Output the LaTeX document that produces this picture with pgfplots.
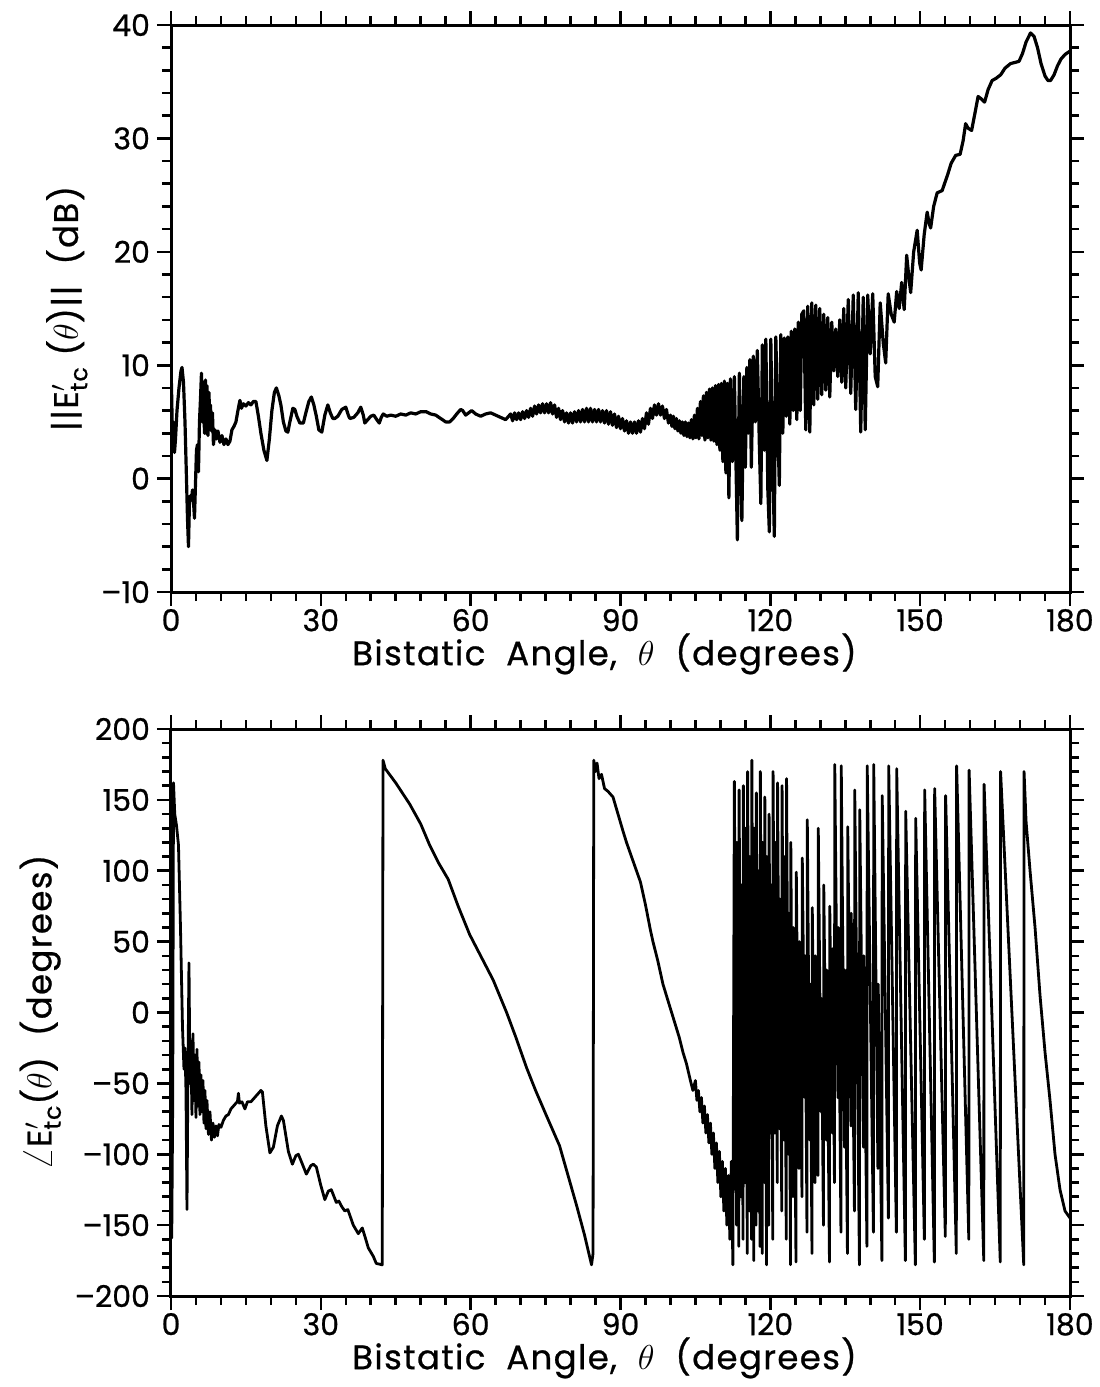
\documentclass[border=0pt]{standalone}
\usepackage{fontspec}
\setmainfont{Poppins}[FakeBold=0.7]
\usepackage{amsmath}
\usepackage{graphicx}
\usepackage{pgfplots}
\pgfplotsset{compat=1.18}

\pgfplotstableread{
t v
0.0 10.0
0.15 7.0
0.3 3.0
0.5 5.0
0.7 2.3
0.9 3.5
1.2 6.0
1.6 8.0
2.0 9.5
2.2 9.8
2.5 8.5
2.8 5.0
3.1 0.0
3.3 -3.5
3.5 -6.0
3.7 -2.0
3.9 -1.5
4.1 -1.9
4.3 -1.0
4.5 -2.0
4.7 -3.5
4.9 -0.5
5.1 2.5
5.3 3.0
5.5 0.6
5.7 5.0
5.9 7.0
6.1 9.3
6.3 5.0
6.5 8.5
6.7 4.0
6.9 8.7
7.0 4.0
7.2 8.2
7.4 3.8
7.6 7.6
7.8 4.5
7.9 6.5
8.1 4.2
8.3 5.8
8.5 3.0
8.8 4.3
9.1 3.5
9.4 4.2
9.8 3.2
10.2 3.8
10.6 3.0
11.0 3.5
11.4 3.0
11.8 3.3
12.2 4.3
12.6 4.6
13.0 5.0
13.4 6.0
13.8 6.9
14.1 6.2
14.5 6.6
15.0 6.4
15.5 6.7
16.0 6.5
16.5 6.8
17.0 6.8
17.5 5.5
18.0 4.0
18.6 2.5
19.2 1.6
19.7 3.5
20.2 6.0
20.7 7.6
21.1 8.0
21.6 7.3
22.0 6.5
22.5 5.0
23.0 4.2
23.4 4.1
23.8 5.0
24.4 6.2
24.8 6.1
25.2 5.5
25.8 4.9
26.5 4.9
27.0 5.8
27.6 6.8
28.1 7.2
28.6 6.5
29.1 5.5
29.6 4.3
30.2 4.1
30.8 5.6
31.4 6.5
31.9 5.8
32.4 5.3
32.8 5.3
33.4 5.5
34.2 6.1
35.0 6.3
35.5 5.6
35.8 5.3
36.6 5.4
37.4 5.8
38.0 6.3
38.5 5.6
38.8 4.9
39.4 5.2
40.0 5.5
40.6 5.6
41.2 5.2
41.7 4.9
42.1 5.4
42.5 5.7
43.2 5.5
44.0 5.6
45.0 5.5
46.0 5.7
47.0 5.6
48.0 5.8
49.0 5.7
50.0 5.9
51.1 5.9
52.0 5.7
53.0 5.6
54.0 5.3
55.0 5.0
55.8 5.0
56.5 5.3
57.2 5.7
58.0 6.1
58.4 6.0
59.0 5.6
59.6 5.8
60.2 6.0
61.0 5.7
62.0 5.5
63.0 5.7
64.0 5.8
65.0 5.6
66.0 5.4
67.0 5.2
68.0 5.7
68.4 5.1
68.8 5.8
69.2 5.2
69.6 5.8
70.0 5.2
70.4 5.9
70.8 5.3
71.2 6.0
71.6 5.4
72.0 6.2
72.4 5.5
72.8 6.4
73.2 5.7
73.6 6.5
74.0 5.8
74.4 6.6
74.8 5.8
75.2 6.6
75.6 5.8
76.0 6.7
76.4 5.7
76.8 6.5
77.2 5.4
77.6 6.2
78.0 5.2
78.4 6.0
78.8 5.0
79.2 5.8
79.6 4.9
80.0 5.8
80.4 4.9
80.8 5.9
81.2 5.0
81.6 6.0
82.0 5.0
82.4 6.1
82.8 5.0
83.2 6.2
83.6 5.0
84.0 6.2
84.4 5.0
84.8 6.1
85.2 5.0
85.6 6.1
86.0 5.0
86.4 6.0
86.8 4.9
87.2 6.0
87.6 4.8
88.0 5.9
88.4 4.7
88.8 5.7
89.2 4.5
89.6 5.5
90.0 4.4
90.4 5.3
90.8 4.2
91.2 5.1
91.6 4.0
92.0 5.0
92.4 4.0
92.8 5.0
93.2 4.0
93.6 5.1
94.0 4.1
94.4 5.3
94.8 4.4
95.2 5.8
95.6 4.8
96.0 6.2
96.4 5.3
96.8 6.5
97.2 5.6
97.6 6.6
98.0 5.6
98.4 6.4
98.8 5.3
99.2 6.1
99.6 4.9
100.0 5.6
100.3 4.6
100.6 5.5
100.9 4.4
101.2 5.3
101.5 4.2
101.8 5.1
102.1 4.0
102.4 5.0
102.7 3.8
103.0 5.0
103.3 3.7
103.6 4.9
103.9 3.6
104.2 5.2
104.5 3.5
104.8 5.6
105.1 3.6
105.4 6.2
105.7 3.5
106.0 6.8
106.3 3.8
106.6 7.3
106.9 3.4
107.2 7.6
107.5 3.6
107.8 7.9
108.1 3.4
108.4 8.0
108.7 3.3
109.0 8.2
109.3 3.0
109.6 8.3
109.9 2.5
110.2 8.4
110.5 1.5
110.8 8.6
111.1 0.5
111.4 8.4
111.7 -1.7
112.0 8.8
112.4 1.5
112.8 9.0
113.4 -5.4
113.8 9.3
114.3 -3.7
114.7 9.0
115.0 1.0
115.3 9.8
115.6 4.0
115.9 10.5
116.2 1.0
116.6 10.8
117.0 5.0
117.4 11.3
117.8 3.0
118.1 -2.2
118.4 11.8
118.8 2.5
119.1 12.3
119.5 -1.0
119.8 -4.7
120.1 12.3
120.4 3.0
120.8 -5.1
121.1 12.5
121.5 4.5
121.8 -0.6
122.1 12.7
122.5 4.0
122.8 12.4
123.2 5.5
123.5 12.5
123.9 4.8
124.2 13.0
124.6 6.0
124.9 13.2
125.3 5.2
125.6 13.8
126.0 6.0
126.3 14.5
126.7 14.8
127.1 4.3
127.5 15.2
127.9 4.1
128.3 15.5
128.7 6.5
129.1 15.3
129.5 7.0
129.9 15.0
130.3 7.4
130.7 14.5
131.1 7.8
131.5 14.2
131.9 7.2
132.3 13.8
132.7 9.5
133.1 13.2
133.5 9.0
133.9 14.0
134.3 8.5
134.7 15.0
135.1 8.0
135.6 15.8
136.1 7.5
136.6 16.2
137.1 6.1
137.6 16.4
138.1 4.1
138.6 16.0
139.0 4.3
139.5 16.2
140.0 11.0
140.5 16.3
141.0 9.0
141.5 8.1
142.0 15.5
142.6 12.0
143.1 10.2
143.6 16.3
144.2 14.5
144.8 13.8
145.3 16.5
145.8 15.0
146.3 17.3
146.8 14.9
147.3 19.7
147.8 17.5
148.1 16.4
148.7 20.0
149.4 21.9
149.9 19.0
150.2 18.4
150.8 21.5
151.4 23.5
151.8 22.5
152.1 22.1
152.7 24.0
153.4 25.2
154.4 25.4
155.5 26.8
156.2 27.8
157.1 28.5
158.0 28.6
158.6 29.8
159.1 31.3
159.6 30.9
160.3 30.7
161.0 32.3
161.6 33.7
162.2 33.5
162.9 33.2
163.6 34.3
164.4 35.1
165.2 35.3
166.1 35.6
167.0 36.2
168.1 36.6
169.0 36.7
169.8 36.8
170.5 37.5
171.2 38.5
172.1 39.3
172.8 39.0
173.5 38.0
174.2 36.6
175.0 35.5
175.6 35.1
176.1 35.1
176.8 35.6
177.5 36.4
178.2 37.0
179.0 37.4
180.0 37.7
}\magtable

\pgfplotstableread{
t v
0.0 -40
0.15 -159
0.35 -60
0.5 162
0.75 140
1.1 132
1.5 118
1.9 60
2.3 -10
2.6 -40
2.8 -25
3.0 -55
3.2 -139
3.4 -40
3.6 35
3.8 -50
4.0 -28
4.2 -72
4.4 -15
4.6 -62
4.8 -30
5.0 -74
5.2 -26
5.4 -66
5.6 -35
5.8 -72
6.0 -44
6.2 -70
6.4 -48
6.6 -78
6.8 -55
7.0 -82
7.2 -62
7.5 -86
7.8 -70
8.1 -90
8.4 -78
8.7 -88
9.0 -80
9.3 -87
9.6 -79
10.0 -81
10.5 -76
11.0 -73
11.5 -72
12.0 -68
12.5 -66
13.0 -64
13.3 -63
13.5 -57
13.7 -64
14.2 -63
14.8 -68
15.3 -63
16.0 -63
17.0 -59
18.0 -55
18.3 -56
19.0 -80
19.8 -99
20.5 -95
21.3 -80
22.1 -73
22.5 -76
23.5 -98
24.3 -107
25.0 -101
25.5 -100
26.2 -106
27.1 -114
28.0 -108
28.5 -107
29.1 -109
30.0 -122
30.8 -132
31.5 -126
32.1 -125
33.1 -134
33.6 -133
34.2 -137
34.8 -140
35.4 -139
36.5 -150
37.5 -156
38.3 -152
39.0 -160
39.5 -166
40.5 -172
41.1 -177
42.3 -178
42.45 178
42.9 172
45.0 162
47.8 147
50.0 133
51.8 118
53.5 106
55.5 94
57.5 75
59.8 55
62.0 40
64.5 23
67.2 0
69.0 -17
71.2 -39
73.0 -55
75.2 -73
77.8 -94
79.5 -115
81.2 -136
82.8 -157
84.2 -178
84.5 -170
84.65 178
85.0 170
85.3 176
85.7 165
86.2 168
86.8 158
87.5 156
88.5 152
89.5 140
90.5 128
91.2 120
92.0 112
93.0 102
94.0 92
95.0 76
96.0 58
96.5 50
97.5 36
98.5 20
99.8 5
100.5 -3
101.8 -18
102.5 -28
103.2 -36
104.0 -48
104.5 -55
105.0 -48
105.3 -62
105.6 -55
105.9 -70
106.2 -60
106.5 -78
106.8 -66
107.1 -85
107.4 -72
107.7 -92
108.0 -78
108.3 -100
108.6 -85
108.9 -110
109.2 -92
109.5 -120
109.8 -98
110.1 -130
110.4 -105
110.7 -140
111.0 -110
111.3 -150
111.6 -115
111.9 -160
112.2 -105
112.5 -178
112.80 163
113.24 -150
113.30 120
113.69 -165
113.75 157
114.14 -130
114.20 90
114.54 -160
114.60 160
114.94 -120
115.00 130
115.39 -170
115.45 170
115.84 -140
115.90 110
116.24 -160
116.30 178
116.69 -175
116.75 130
117.14 -150
117.20 155
117.54 -140
117.60 100
117.94 -165
118.00 170
118.39 -170
118.45 120
118.84 -120
118.90 152
119.24 -178
119.30 110
119.69 -150
119.75 140
120.09 -85
120.15 90
120.49 -160
120.55 170
120.94 -85
121.00 120
121.39 -120
121.45 162
121.84 -82
121.90 80
122.29 -140
122.35 160
122.74 -90
122.80 110
123.19 -160
123.25 165
123.64 -100
123.70 70
124.04 -178
124.10 120
124.54 -130
124.60 60
125.14 -176
125.20 99
125.74 -110
125.80 50
126.34 -130
126.40 109
126.90 -60
126.95 40
127.34 -155
127.40 136
127.90 -90
127.95 20
128.34 -170
128.40 74
128.94 -120
129.00 40
129.54 -115
129.60 130
130.14 -70
130.20 10
130.64 -150
130.70 90
131.24 -90
131.30 30
131.84 -176
131.90 75
132.40 -85
132.45 45
132.84 -120
132.90 175
133.54 -60
133.60 60
134.14 -155
134.20 174
134.84 -95
134.90 30
135.44 -170
135.50 131
136.14 -80
136.20 70
136.84 -140
136.90 157
137.84 -178
137.90 143
138.64 -95
138.70 40
139.34 -165
139.40 174
140.64 -155
140.70 175
141.54 -110
141.60 20
142.34 -175
142.40 153
143.64 -145
143.70 174
145.24 -155
145.30 172
147.04 -175
147.10 142
149.04 -178
149.10 137
150.84 -160
150.90 157
152.84 -176
152.90 158
155.04 -158
155.10 153
157.24 -170
157.30 174
159.74 -160
159.80 171
162.74 -175
162.80 161
166.04 -176
166.10 170
170.74 -178
170.80 170
171.2 135
172.0 100
173.0 60
174.0 12
175.0 -28
176.0 -62
177.0 -100
178.0 -125
179.0 -140
180.0 -145
}\phasetable

\pgfplotsset{
  myaxis/.style={
    scale only axis, width=449.5pt, height=283.5pt,
    xmin=0, xmax=180, xtick={0,30,...,180}, minor x tick num=5,
    tick align=outside, tick pos=both,
    xticklabel pos=lower, yticklabel pos=left,
    major tick length=7pt, minor tick length=4.5pt,
    every tick/.style={black, line width=1.3pt},
    axis line style={line width=1.5pt},
    tick label style={font=\fontsize{15}{17}\selectfont},
    xticklabel style={yshift=2pt},
    label style={font=\fontsize{17}{19}\selectfont\addfontfeature{LetterSpace=4}},
    xlabel={Bistatic\ \ Angle,\ \ $\theta$\ \ (degrees)},
    xlabel style={yshift=6pt, xshift=-8pt},
    /pgf/number format/assume math mode=true,
    clip=true,
  }
}

\begin{document}
\begin{tikzpicture}
\path[use as bounding box] (0pt,0pt) rectangle (549.5pt,-693.5pt);

\begin{axis}[myaxis,
  at={(85.5pt,-296pt)}, anchor=south west,
  ymin=-10, ymax=40, ytick={-10,0,...,40}, minor y tick num=4,
  yticklabels={--10,0,10,20,30,40},
  ylabel={||E$'_{\text{tc}}$\ ($\theta$)||\ \ (dB)},
]
\addplot[black, line width=1.6pt, line join=round] table[x=t,y=v] {\magtable};
\end{axis}

\begin{axis}[myaxis,
  at={(85.5pt,-648pt)}, anchor=south west,
  ymin=-200, ymax=200, ytick={-200,-150,...,200}, minor y tick num=4,
  yticklabels={--200,--150,--100,--50,0,50,100,150,200},
  ylabel={\scalebox{1.25}{$\angle$}E$'_{\text{tc}}$($\theta$)\ \ (degrees)},
]
\addplot[black, line width=1.4pt, line join=round] table[x=t,y=v] {\phasetable};
\end{axis}
\end{tikzpicture}
\end{document}
